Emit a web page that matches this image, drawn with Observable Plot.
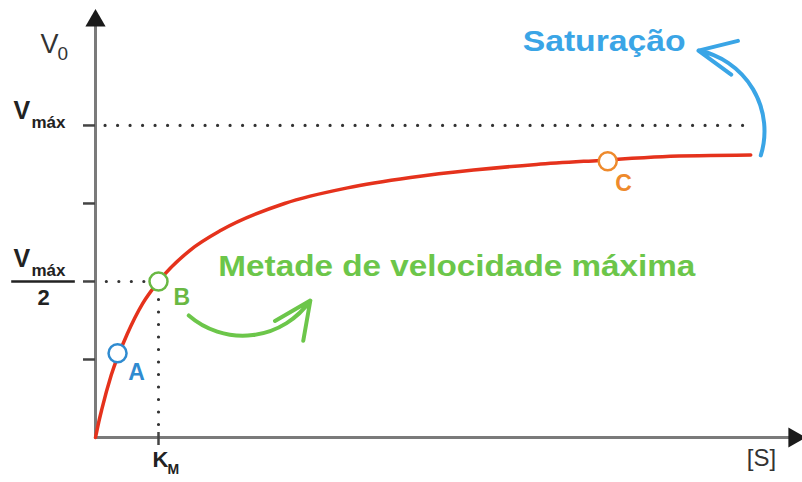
<!DOCTYPE html>
<html><head><meta charset="utf-8">
<script src="https://cdn.jsdelivr.net/npm/d3@7"></script>
<script src="https://cdn.jsdelivr.net/npm/@observablehq/plot@0.6"></script>
<style>body{margin:0;background:#fff}svg{display:block}</style>
</head><body><div id="chart"></div>
<script>
// Curve readings: substrate concentration [S] (units of K_M) and V0 (fraction of Vmáx)
const substrate = [0, 0.05, 0.1, 0.25, 0.5, 0.75, 1, 1.5, 2, 3, 4, 5, 6, 7, 8, 9, 10.4];
const velocity  = [0, 0.048, 0.09, 0.2, 0.33, 0.43, 0.5, 0.6, 0.665, 0.75, 0.8, 0.833, 0.857, 0.875, 0.888, 0.9, 0.905];
// Marked points
const pointNames = ["A", "B", "C"];
const pointS = [0.35, 1, 8.13];
const pointV = [0.27, 0.5, 0.885];
const pointColors = ["#2f8bd0", "#69b843", "#ee8a2c"];
const pointLabelS = [0.65, 1.37, 8.38];
const pointLabelV = [0.208, 0.449, 0.814];
// Axis ticks
const yTicks = [0.25, 0.5, 0.75, 1];
const xTicks = [1];
const vmax = 1, km = 1, halfV = 0.5;
const xMax = 11.19, yMax = 1.362;
// Annotations
const annotTexts = ["Saturação", "Metade de velocidade máxima"];
const annotS = [6.78, 1.95];
const annotV = [1.269, 0.548];
const annotColors = ["#3aa5e6", "#6cc64a"];
const arrowsData = [
  {x1: 10.56, y1: 0.904, x2: 9.57, y2: 1.24, color: "#3aa5e6"},
  {x1: 1.48, y1: 0.391, x2: 3.41, y2: 0.439, color: "#6cc64a"}
];

const curve = substrate.map((s, i) => ({s, v: velocity[i]}));
const points = pointNames.map((n, i) => ({n, s: pointS[i], v: pointV[i], c: pointColors[i], ls: pointLabelS[i], lv: pointLabelV[i]}));
const annots = annotTexts.map((t, i) => ({t, s: annotS[i], v: annotV[i], c: annotColors[i]}));

const dotted = {stroke: "#333", strokeWidth: 3.2, strokeDasharray: "0 12.5", strokeLinecap: "round"};
const axisColor = "#7a7a7a";
const font = "Liberation Sans, Arial, sans-serif";

const svg = Plot.plot({
  width: 802, height: 482,
  marginLeft: 95, marginRight: 2, marginTop: 12, marginBottom: 45,
  x: {domain: [0, xMax]},
  y: {domain: [0, yMax]},
  color: {type: "identity"},
  style: {fontFamily: font, background: "#fff"},
  marks: [
    // dotted guides
    Plot.ruleY([vmax], {x1: 0.16, x2: 10.43, ...dotted}),
    Plot.ruleY([halfV], {x1: 0.18, x2: 0.85, ...dotted}),
    Plot.ruleX([km], {y1: 0, y2: 0.46, ...dotted}),
    // axes
    Plot.ruleX([0], {y1: 0, y2: yMax - 0.03, stroke: axisColor, strokeWidth: 3}),
    Plot.ruleY([0], {x1: 0, x2: xMax - 0.15, stroke: axisColor, strokeWidth: 3}),
    Plot.dot([0], {x: 0, y: yMax - 0.026, symbol: "triangle", r: 7.5, fill: "#1a1a1a"}),
    Plot.dot([0], {x: xMax - 0.1, y: 0, symbol: "triangle", rotate: 90, r: 7.5, fill: "#1a1a1a"}),
    Plot.axisY(yTicks, {tickSize: 12, tickFormat: () => "", label: null, stroke: "#444", strokeWidth: 2.5}),
    Plot.axisX(xTicks, {tickSize: 13, tickFormat: () => "", label: null, stroke: "#444", strokeWidth: 2.5, dy: -5}),
    // Michaelis-Menten curve
    Plot.line(curve, {x: "s", y: "v", curve: "monotone-x", stroke: "#e5321c", strokeWidth: 3.5}),
    Plot.dot(points, {x: "s", y: "v", r: 9, stroke: "c", fill: "white", strokeWidth: 2.5}),
    Plot.text(points, {x: "ls", y: "lv", text: "n", fill: "c", fontSize: 23, fontWeight: "bold"}),
    // annotation texts and arrows
    Plot.text(annots, {x: "s", y: "v", text: "t", fill: "c", fontSize: 29, fontWeight: "bold", textAnchor: "start"}),
    Plot.arrow(arrowsData, {x1: "x1", y1: "y1", x2: "x2", y2: "y2", bend: -48, stroke: "color", strokeWidth: 4, headLength: 20, headAngle: 50}),
    // axis labels
    Plot.text(["V"], {frameAnchor: "top-left", dx: -55, dy: 21, fontSize: 27, textAnchor: "start", fill: "#333"}),
    Plot.text(["0"], {frameAnchor: "top-left", dx: -38, dy: 34, fontSize: 19, textAnchor: "start", fill: "#333"}),
    Plot.text([vmax], {y: d => d, frameAnchor: "left", text: () => "V", dx: -82, dy: -14, fontSize: 25, fontWeight: "bold", textAnchor: "start", fill: "#222"}),
    Plot.text([vmax], {y: d => d, frameAnchor: "left", text: () => "máx", dx: -64, dy: -3, fontSize: 17, fontWeight: "bold", textAnchor: "start", fill: "#222"}),
    Plot.text([halfV], {y: d => d, frameAnchor: "left", text: () => "V", dx: -82, dy: -22, fontSize: 25, fontWeight: "bold", textAnchor: "start", fill: "#222"}),
    Plot.text([halfV], {y: d => d, frameAnchor: "left", text: () => "máx", dx: -64, dy: -11, fontSize: 17, fontWeight: "bold", textAnchor: "start", fill: "#222"}),
    Plot.ruleY([halfV], {x1: -1.33, x2: -0.32, stroke: "#222", strokeWidth: 2.5}),
    Plot.text([halfV], {y: d => d, frameAnchor: "left", text: () => "2", dx: -52, dy: 16, fontSize: 22, fontWeight: "bold", textAnchor: "middle", fill: "#222"}),
    Plot.text([km], {x: d => d, frameAnchor: "bottom", text: () => "K", dx: -6, dy: 29, fontSize: 22, fontWeight: "bold", textAnchor: "start", fill: "#222"}),
    Plot.text([km], {x: d => d, frameAnchor: "bottom", text: () => "M", dx: 9, dy: 36, fontSize: 14, fontWeight: "bold", textAnchor: "start", fill: "#222"}),
    Plot.text(["[S]"], {x: 10.57, frameAnchor: "bottom", dy: 28, fontSize: 24, textAnchor: "middle", fill: "#333"})
  ]
});
const stretch = {"Saturação": 163, "Metade de velocidade máxima": 477};
d3.select(svg).selectAll("text").each(function() {
  const t = this.textContent;
  if (t in stretch) { this.setAttribute("textLength", stretch[t]); this.setAttribute("lengthAdjust", "spacingAndGlyphs"); }
});
document.getElementById("chart").appendChild(svg);
</script>
</body></html>
